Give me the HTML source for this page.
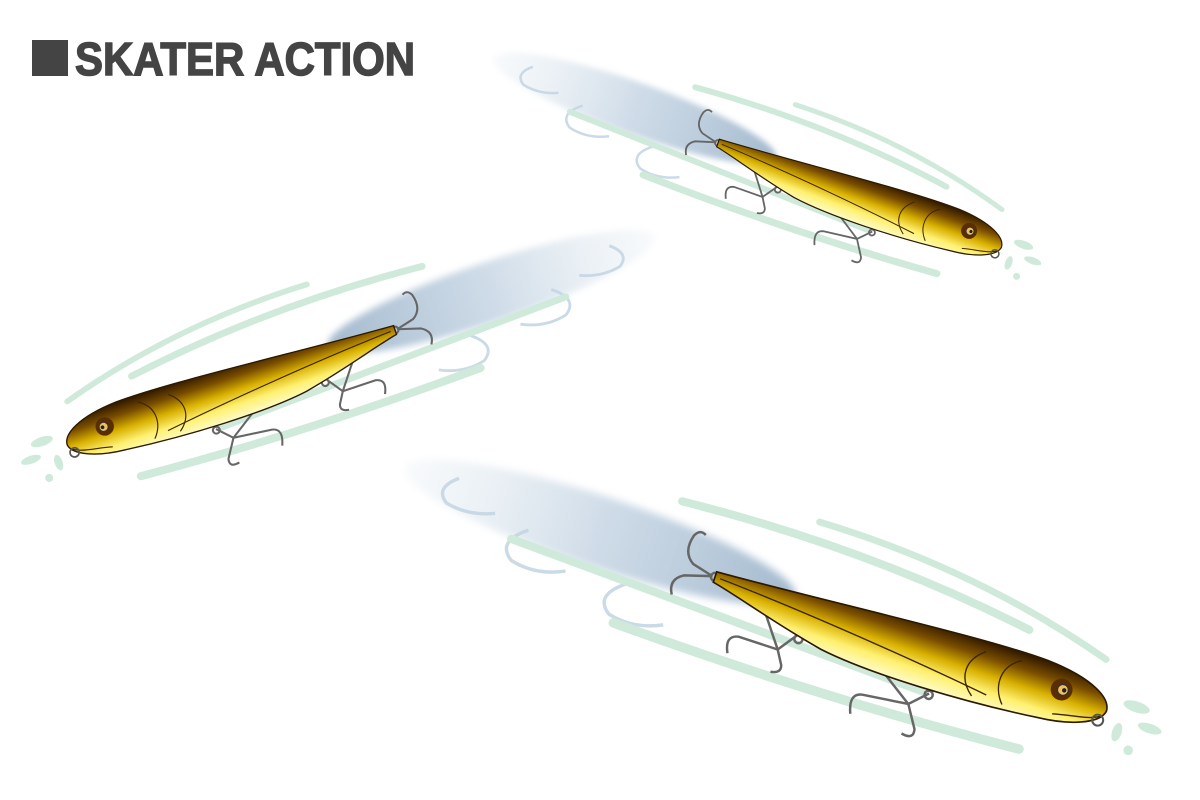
<!DOCTYPE html>
<html><head><meta charset="utf-8"><style>html,body{margin:0;padding:0;background:#fff}svg{display:block}</style></head>
<body>
<svg width="1200" height="800" viewBox="0 0 1200 800" xmlns="http://www.w3.org/2000/svg">
<defs>
<linearGradient id="body" x1="0" y1="0" x2="0" y2="1">
<stop offset="0" stop-color="#2e1600"/>
<stop offset="0.25" stop-color="#7a4e00"/>
<stop offset="0.5" stop-color="#d8b000"/>
<stop offset="0.75" stop-color="#fff070"/>
<stop offset="1" stop-color="#fffbc8"/>
</linearGradient>
<linearGradient id="ghost" x1="0" y1="0" x2="1" y2="0">
<stop offset="0" stop-color="#dde7ef" stop-opacity="0.2"/>
<stop offset="0.5" stop-color="#c3d3e2" stop-opacity="0.8"/>
<stop offset="1" stop-color="#9fb6cc" stop-opacity="0.95"/>
</linearGradient>
<filter id="blur" x="-20%" y="-50%" width="140%" height="200%"><feGaussianBlur stdDeviation="3"/></filter>
<g id="lure">
  <ellipse cx="-90" cy="-5" rx="150" ry="26" fill="url(#ghost)" filter="url(#blur)"/>
  <g fill="none" stroke="#c5d6e4" stroke-width="2.5" opacity="0.9">
    <path d="M-140,10 q-20,15 -5,25 q20,5 40,-5"/>
    <path d="M-60,25 q-20,15 -5,25 q20,5 40,-5"/>
    <path d="M-200,-10 q-15,12 -3,20 q18,4 36,-4"/>
  </g>
  <g fill="none" stroke="#cfeadb" stroke-linecap="round">
    <path d="M-40,-45 Q100,-55 230,-35" stroke-width="6"/>
    <path d="M60,-62 Q180,-65 290,-32" stroke-width="5"/>
    <path d="M-150,20 Q0,25 170,32" stroke-width="6"/>
    <path d="M-60,55 Q100,60 250,50" stroke-width="7"/>
  </g>
  <g fill="none" stroke="#666" stroke-width="1.8">
    <path d="M-2,0 l-16,-4 q-10,-6 -6,-20 q3,-6 8,-3"/>
    <path d="M-2,0 l-20,6 q-10,6 -4,16"/>
    <circle cx="0" cy="0" r="3"/>
    <path d="M70,22 l-10,14 l-30,0 q-10,2 -4,14"/>
    <path d="M60,36 l-18,-24 q-5,-8 4,-10"/>
    <path d="M60,36 l6,10 q2,6 -6,7"/>
    <circle cx="72" cy="24" r="3"/>
    <path d="M175,32 l-12,12 l-34,4 q-10,2 -4,16"/>
    <path d="M163,44 l-24,-16 q-6,-4 2,-8"/>
    <path d="M163,44 l10,16 q2,8 -8,6"/>
    <circle cx="175" cy="33" r="3"/>
  </g>
  <path d="M0,-4 C80,-8 200,-20 250,-18 C285,-16 302,-6 302,4 C300,14 280,22 255,24 C200,30 130,32 90,26 C50,18 20,8 0,4 Z" fill="url(#body)" stroke="#2b1a00" stroke-width="1.2"/>
  <path d="M4,0 C80,4 170,14 215,20" fill="none" stroke="#3a2600" stroke-width="1"/>
  <path d="M205,-10 C192,0 192,14 205,24 M232,-12 C218,-4 218,12 228,23" fill="none" stroke="#3a2600" stroke-width="1"/>
  <path d="M265,18 C280,14 292,14 300,8" fill="none" stroke="#3a2600" stroke-width="1"/>
  <circle cx="266" cy="-1" r="8" fill="#5a2e00"/>
  <circle cx="267" cy="-1" r="4" fill="#f0c060" stroke="#333" stroke-width="1"/>
  <circle cx="268" cy="-1" r="1.6" fill="#222"/>
  <circle cx="298" cy="12" r="4" fill="none" stroke="#555" stroke-width="1.5"/>
  <g fill="#cfeadb">
    <ellipse cx="322" cy="-6" rx="10" ry="4"/>
    <ellipse cx="336" cy="6" rx="9" ry="3.5"/>
    <ellipse cx="314" cy="16" rx="3.5" ry="7"/>
    <ellipse cx="326" cy="26" rx="3.5" ry="3.5"/>
  </g>
</g>
</defs>
<rect width="1200" height="800" fill="#fff"/>
<rect x="32" y="40" width="36" height="36" fill="#444"/>
<text x="75" y="75" font-family="'Liberation Sans', sans-serif" font-weight="bold" font-size="46" fill="#444" stroke="#444" stroke-width="1.5" textLength="340" lengthAdjust="spacingAndGlyphs">SKATER ACTION</text>
<use href="#lure" transform="translate(718,143) rotate(19.5)"/>
<use href="#lure" transform="translate(395,330) rotate(161.4) scale(1.15,-1.15)"/>
<use href="#lure" transform="translate(715,577) rotate(18.2) scale(1.37)"/>
</svg>
</body></html>
